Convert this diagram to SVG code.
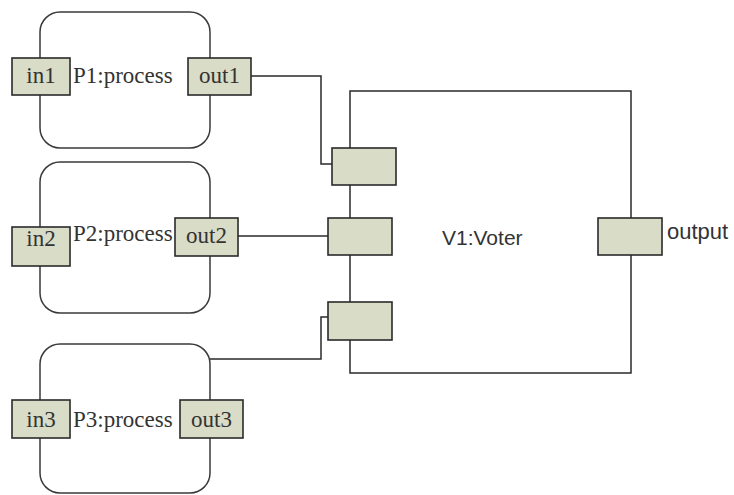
<svg xmlns="http://www.w3.org/2000/svg" width="734" height="495" viewBox="0 0 734 495">
  <style>
    .proc { fill: #ffffff; stroke: #3a3a3a; stroke-width: 1.5; }
    .port { fill: #d9dcc7; stroke: #2a2a2a; stroke-width: 1.6; }
    .voter { fill: none; stroke: #2a2a2a; stroke-width: 1.5; }
    .wire { fill: none; stroke: #2a2a2a; stroke-width: 1.5; }
    .serif { font-family: "Liberation Serif", "Times New Roman", serif; font-size: 23px; fill: #333333; }
    .sans { font-family: "Liberation Sans", Arial, sans-serif; font-size: 21px; fill: #333333; }
  </style>
  <rect width="734" height="495" fill="#ffffff"/>

  <!-- connectors -->
  <g id="connectors">
    <polyline class="wire" points="251,76 321,76 321,164 332,164"/>
    <line class="wire" x1="238" y1="236" x2="328" y2="236"/>
    <polyline class="wire" points="210,359 321,359 321,317 328,317"/>
  </g>

  <!-- P1 process -->
  <g id="P1">
    <rect class="proc" x="40" y="12" width="170" height="136" rx="20" ry="20"/>
    <rect class="port" x="12" y="58" width="58" height="37"/>
    <rect class="port" x="188" y="58" width="63" height="37"/>
    <text class="serif" x="41" y="83" text-anchor="middle">in1</text>
    <text class="serif" x="73" y="83">P1:process</text>
    <text class="serif" x="219.5" y="83" text-anchor="middle">out1</text>
  </g>

  <!-- P2 process -->
  <g id="P2">
    <rect class="proc" x="40" y="162" width="170" height="151" rx="20" ry="20"/>
    <rect class="port" x="12" y="227" width="58" height="39"/>
    <text class="serif" x="73" y="241">P2:process</text>
    <rect class="port" x="175" y="218" width="63" height="38"/>
    <text class="serif" x="41" y="246" text-anchor="middle">in2</text>
    <text class="serif" x="206.5" y="243" text-anchor="middle">out2</text>
  </g>

  <!-- P3 process -->
  <g id="P3">
    <rect class="proc" x="40" y="344" width="170" height="149" rx="20" ry="20"/>
    <rect class="port" x="12" y="400" width="58" height="38"/>
    <rect class="port" x="180" y="400" width="63" height="38"/>
    <text class="serif" x="41" y="427" text-anchor="middle">in3</text>
    <text class="serif" x="73" y="427">P3:process</text>
    <text class="serif" x="211.5" y="427" text-anchor="middle">out3</text>
  </g>

  <!-- V1 voter -->
  <g id="V1">
    <rect class="voter" x="350" y="91" width="281" height="282"/>
    <rect class="port" x="332" y="148" width="64" height="37"/>
    <rect class="port" x="328" y="218" width="64" height="37"/>
    <rect class="port" x="328" y="302" width="64" height="38"/>
    <rect class="port" x="598" y="218" width="64" height="37"/>
    <text class="sans" x="442" y="245">V1:Voter</text>
    <text class="sans" x="667" y="239" style="font-size:22px">output</text>
  </g>
</svg>
